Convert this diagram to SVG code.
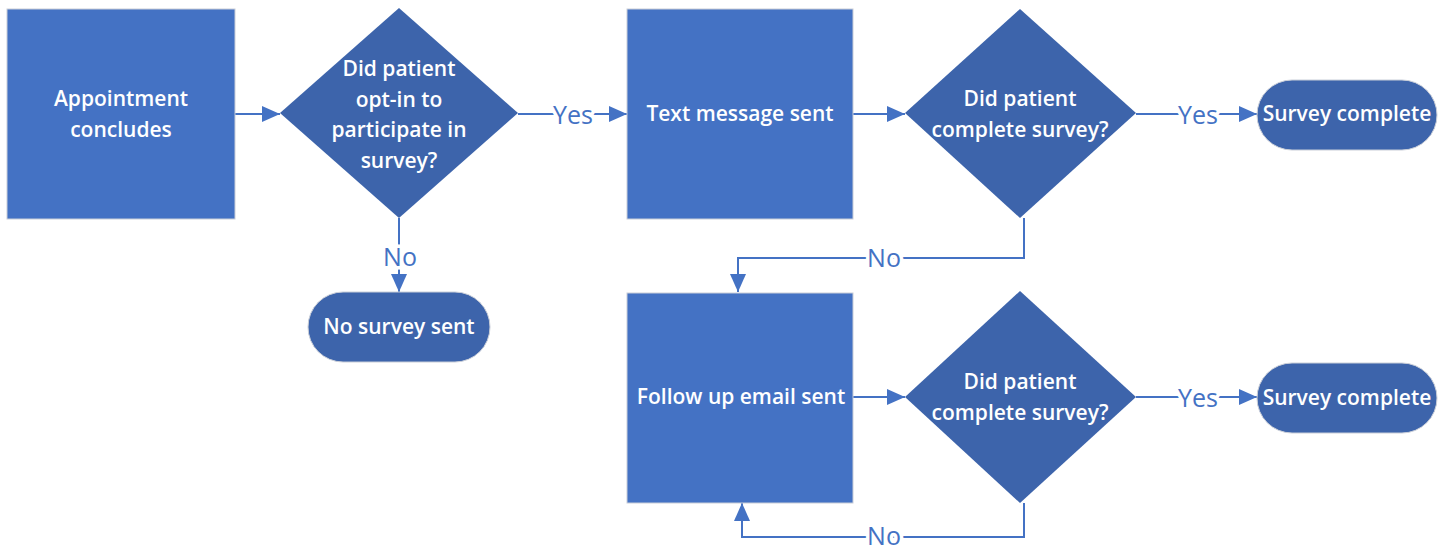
<svg xmlns="http://www.w3.org/2000/svg" width="1445" height="550" viewBox="0 0 1445 550">
<style>
.box{fill:#4472C4;stroke:#C9CED8;stroke-width:1}
.dec{fill:#3D64AB}
.term{fill:#3D64AB;stroke:#C9CED8;stroke-width:1}
.nt{font-family:"Open Sans","Noto Sans",sans-serif;font-size:21px;font-weight:600;fill:#FFFFFF;text-anchor:middle}
.lbl{font-family:"Open Sans","Noto Sans",sans-serif;font-size:25px;fill:#4472C4;text-anchor:middle;stroke:#FFFFFF;stroke-width:7;stroke-linejoin:round;paint-order:stroke}
.ln{fill:none;stroke:#4472C4;stroke-width:2}
</style>
<defs>
<marker id="ah" markerWidth="18" markerHeight="16" refX="18" refY="8" orient="auto" markerUnits="userSpaceOnUse" viewBox="0 0 18 16">
<path d="M0,0 L18,8 L0,16 Z" fill="#4472C4"/>
</marker>
</defs>
<g id="connectors">
<path class="ln" d="M235,114 H280" marker-end="url(#ah)"/>
<path class="ln" d="M518,114 H627" marker-end="url(#ah)"/>
<path class="ln" d="M399,218 V292" marker-end="url(#ah)"/>
<path class="ln" d="M853,114 H905" marker-end="url(#ah)"/>
<path class="ln" d="M1136,114 H1257" marker-end="url(#ah)"/>
<path class="ln" d="M1024,218 V258 H738 V292" marker-end="url(#ah)"/>
<path class="ln" d="M853,397 H905" marker-end="url(#ah)"/>
<path class="ln" d="M1136,397 H1257" marker-end="url(#ah)"/>
<path class="ln" d="M1024,503 V537 H742 V503" marker-end="url(#ah)"/>
<text class="lbl" x="573" y="124">Yes</text>
<text class="lbl" x="400" y="266">No</text>
<text class="lbl" x="884" y="267">No</text>
<text class="lbl" x="1198" y="124">Yes</text>
<text class="lbl" x="1198" y="407">Yes</text>
<text class="lbl" x="884" y="545">No</text>
</g>
<g id="n1">
<rect class="box" x="7" y="9" width="228" height="210"/>
<text class="nt" x="121" y="106">Appointment</text>
<text class="nt" x="121" y="137">concludes</text>
</g>
<g id="n2">
<polygon class="dec" points="399,8 518,113 399,218 280,113"/>
<text class="nt" x="399" y="76">Did patient</text>
<text class="nt" x="399" y="107">opt-in to</text>
<text class="nt" x="399" y="137">participate in</text>
<text class="nt" x="399" y="168">survey?</text>
</g>
<g id="n3">
<rect class="term" x="308" y="292" width="182" height="70" rx="35"/>
<text class="nt" x="399" y="334">No survey sent</text>
</g>
<g id="n4">
<rect class="box" x="627" y="9" width="226" height="210"/>
<text class="nt" x="740" y="121">Text message sent</text>
</g>
<g id="n5">
<polygon class="dec" points="1020,9 1136,113 1020,218 905,113"/>
<text class="nt" x="1020" y="106">Did patient</text>
<text class="nt" x="1020" y="137">complete survey?</text>
</g>
<g id="n6">
<rect class="term" x="1257" y="80" width="180" height="70" rx="35"/>
<text class="nt" x="1347" y="121">Survey complete</text>
</g>
<g id="n7">
<rect class="box" x="627" y="293" width="226" height="210"/>
<text class="nt" x="741" y="404">Follow up email sent</text>
</g>
<g id="n8">
<polygon class="dec" points="1020,291 1136,397 1020,503 905,397"/>
<text class="nt" x="1020" y="389">Did patient</text>
<text class="nt" x="1020" y="420">complete survey?</text>
</g>
<g id="n9">
<rect class="term" x="1257" y="363" width="180" height="70" rx="35"/>
<text class="nt" x="1347" y="405">Survey complete</text>
</g>
</svg>
